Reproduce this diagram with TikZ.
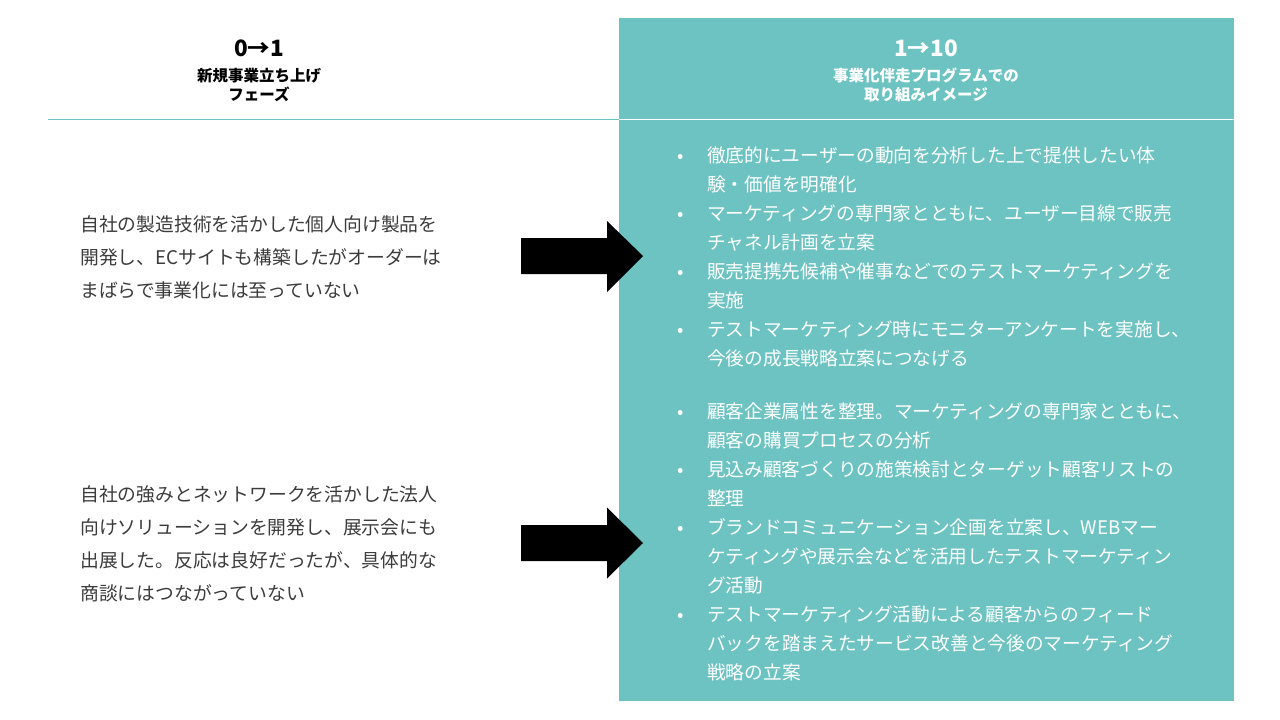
\documentclass[tikz,border=0pt]{standalone}
\usepackage{fontspec}
\setmainfont{Noto Sans CJK JP}
\definecolor{panel}{HTML}{6DC3C1}
\definecolor{bodytext}{HTML}{3C3C3C}
\newcommand\mylines[1]{\begin{tabular}[t]{@{}l@{}}#1\end{tabular}}
\newcommand\mybul{\makebox[0pt]{•}}
\newcommand\mybullets[1]{\begin{tabular}[t]{@{}r@{\hspace{27pt}}l@{}}#1\end{tabular}}
\begin{document}
\begin{tikzpicture}[x=1pt,y=-1pt,
  lefttext/.style={anchor=base west, inner sep=0pt, text=bodytext, font=\fontsize{18.8}{33}\selectfont},
  righttext/.style={anchor=base west, inner sep=0pt, text=white, font=\fontsize{18.7}{29.1}\selectfont},
  headnum/.style={anchor=base, inner sep=0pt, font=\fontsize{22.5}{26}\selectfont\bfseries},
  headsub/.style={anchor=base, inner sep=0pt, align=center, font=\fontsize{15.5}{19}\selectfont\bfseries},
  blockarrow/.style={fill=black}
]
\useasboundingbox (0,0) rectangle (1280,720);
\fill[white] (0,0) rectangle (1280,720);
\fill[panel] (619,18) rectangle (1234,701);
\coordinate (lineL) at (48,119);
\coordinate (lineM) at (619,119);
\coordinate (lineR) at (1234,119);
\draw[panel, line width=1pt] (lineL) -- (lineM);
\draw[white, line width=1pt] (lineM) -- (lineR);

% headers
\node[headnum, text=black] (h1) at (259,56) {0→1};
\node[headsub, text=black] (h1s) at (259,81) {\mylines{\hfil 新規事業立ち上げ\hfil\\ \hfil フェーズ\hfil}};
\node[headnum, text=white] (h2) at (926,56) {1→10};
\node[headsub, text=white] (h2s) at (926,81) {\mylines{\hfil 事業化伴走プログラムでの\hfil\\ \hfil 取り組みイメージ\hfil}};

% left texts
\node[lefttext] (l1) at (80,231.5) {\mylines{自社の製造技術を活かした個人向け製品を\\開発し、ECサイトも構築したがオーダーは\\まばらで事業化には至っていない}};
\node[lefttext] (l2) at (80,501.5) {\mylines{自社の強みとネットワークを活かした法人\\向けソリューションを開発し、展示会にも\\出展した。反応は良好だったが、具体的な\\商談にはつながっていない}};

% arrows
\fill[blockarrow] (521,238) -- (607,238) -- (607,221) -- (643,256) -- (607,292) -- (607,274) -- (521,274) -- cycle;
\fill[blockarrow] (521,525) -- (607,525) -- (607,507.5) -- (643,543) -- (607,578.5) -- (607,561) -- (521,561) -- cycle;

% right bullets
\node[righttext] (r1) at (680,162) {\mybullets{%
\mybul & 徹底的にユーザーの動向を分析した上で提供したい体\\
 & 験・価値を明確化\\
\mybul & マーケティングの専門家とともに、ユーザー目線で販売\\
 & チャネル計画を立案\\
\mybul & 販売提携先候補や催事などでのテストマーケティングを\\
 & 実施\\
\mybul & テストマーケティング時にモニターアンケートを実施し、\\
 & 今後の成長戦略立案につなげる}};
\node[righttext] (r2) at (680,418) {\mybullets{%
\mybul & 顧客企業属性を整理。マーケティングの専門家とともに、\\
 & 顧客の購買プロセスの分析\\
\mybul & 見込み顧客づくりの施策検討とターゲット顧客リストの\\
 & 整理\\
\mybul & ブランドコミュニケーション企画を立案し、WEBマー\\
 & ケティングや展示会などを活用したテストマーケティン\\
 & グ活動\\
\mybul & テストマーケティング活動による顧客からのフィード\\
 & バックを踏まえたサービス改善と今後のマーケティング\\
 & 戦略の立案}};
\end{tikzpicture}
\end{document}
